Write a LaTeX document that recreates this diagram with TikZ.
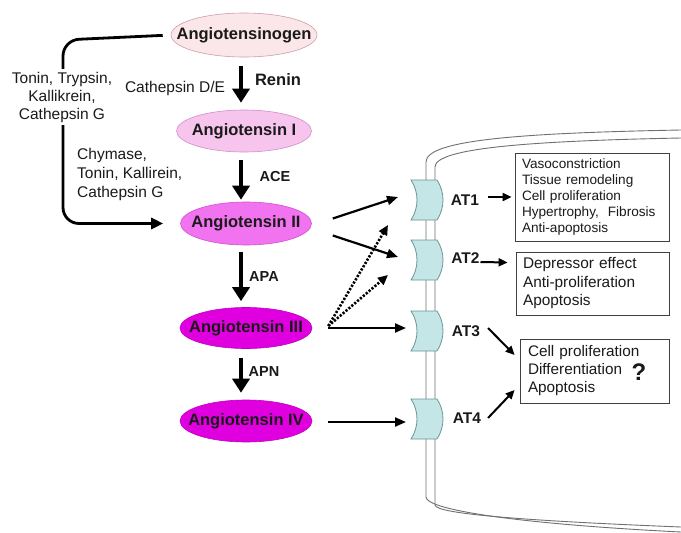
\documentclass[tikz,border=0pt]{standalone}
\usepackage{fontspec}
\setmainfont{Liberation Sans}
\usetikzlibrary{arrows.meta,shapes.geometric,calc}
\definecolor{agfill}{HTML}{FBE6EA}
\definecolor{agdraw}{HTML}{C9A0AA}
\definecolor{aifill}{HTML}{F6C4EC}
\definecolor{aidraw}{HTML}{D090C8}
\definecolor{aiifill}{HTML}{F273F0}
\definecolor{aiidraw}{HTML}{D050D0}
\definecolor{aiiifill}{HTML}{E000DF}
\definecolor{aiiidraw}{HTML}{C000C0}
\definecolor{txt}{HTML}{1A1A1A}
\definecolor{memb}{HTML}{707070}
\definecolor{rcfill}{HTML}{C5E6E6}
\definecolor{rcdraw}{HTML}{6A9494}
\definecolor{boxdraw}{HTML}{404040}
\tikzset{
  pep/.style={ellipse, line width=0.6pt, inner sep=0pt},
  peptxt/.style={font=\fontsize{16.5}{19}\selectfont\bfseries, text=txt, inner sep=0pt},
  reg/.style={font=\fontsize{15.5}{18}\selectfont, text=txt, inner sep=0pt},
  enz/.style={font=\fontsize{14.5}{17}\selectfont\bfseries, text=txt, inner sep=0pt},
  atlab/.style={font=\fontsize{15.5}{18}\selectfont\bfseries, text=txt, inner sep=0pt},
  bigarr/.style={line width=3.6pt, -{Triangle[length=14pt,width=17pt]}},
  midarr/.style={line width=2.8pt, -{Triangle[length=12pt,width=11pt]}},
  solarr/.style={line width=2.2pt, -{Triangle[length=11pt,width=9pt]}},
  dotarr/.style={line width=2.6pt, dash pattern=on 2.2pt off 1.6pt, -{Triangle[length=10pt,width=9pt]}},
  smarr/.style={line width=2pt, -{Triangle[length=9pt,width=8pt]}},
  membline/.style={draw=memb, line width=0.9pt},
  effbox/.style={draw=boxdraw, line width=0.8pt, rectangle, align=left, text=txt, inner ysep=0pt},
  pics/receptor/.style={code={
    \filldraw[fill=rcfill, draw=rcdraw, line width=0.8pt]
      (-17,-20) -- (9,-20) .. controls (17,-8) and (17,8) .. (9,20)
      -- (-17,20) .. controls (-9,8) and (-9,-8) .. (-17,-20) -- cycle;
  }}
}
\begin{document}
\begin{tikzpicture}[x=1pt,y=-1pt]
\useasboundingbox (0,0) rectangle (681,533);
\fill[white] (0,0) rectangle (681,533);

% membrane
\draw[membline] (681,130) .. controls (520,133) and (426,140) .. (426,162) -- (426,497)
   .. controls (426,510) and (520,524) .. (681,532);
\draw[membline] (681,138) .. controls (530,141) and (435,148) .. (435,167) -- (435,505)
   .. controls (435,514) and (530,521) .. (681,527);

% receptors
\coordinate (r1) at (428,200);
\coordinate (r2) at (428,260);
\coordinate (r3) at (428,331);
\coordinate (r4) at (428,419);
\pic at (r1) {receptor};
\pic at (r2) {receptor};
\pic at (r3) {receptor};
\pic at (r4) {receptor};

% peptides
\node[pep, fill=agfill, draw=agdraw, minimum width=146pt, minimum height=44pt] (ag) at (244,35) {};
\node[peptxt] (agt) at (ag) {Angiotensinogen};
\node[pep, fill=aifill, draw=aidraw, minimum width=135pt, minimum height=42pt] (a1) at (244,131) {};
\node[peptxt] (a1t) at (a1) {Angiotensin I};
\node[pep, fill=aiifill, draw=aiidraw, minimum width=131pt, minimum height=43pt] (a2) at (246,223.5) {};
\node[peptxt] (a2t) at (a2) {Angiotensin II};
\node[pep, fill=aiiifill, draw=aiiidraw, minimum width=132pt, minimum height=41pt] (a3) at (246,328) {};
\node[peptxt] (a3t) at (a3) {Angiotensin III};
\node[pep, fill=aiiifill, draw=aiiidraw, minimum width=132pt, minimum height=42pt] (a4) at (246,421) {};
\node[peptxt] (a4t) at (a4) {Angiotensin IV};

% vertical arrows (column at x = 241)
\draw[bigarr] ($(ag.south)+(-3,9)$) -- ($(a1.north)+(-3,-7)$);
\draw[bigarr] ($(a1.south)+(-3,8)$) -- ($(a2.north)+(-5,-2)$);
\draw[bigarr] ($(a2.south)+(-5,7)$) -- ($(a3.north)+(-5,-6)$);
\draw[bigarr] ($(a3.south)+(-5,9)$) -- ($(a4.north)+(-5,-7)$);

\node[reg] (cde) at (175,88) {Cathepsin D/E};
\node[font=\fontsize{16.5}{19}\selectfont\bfseries, text=txt, inner sep=0pt] (ren) at (278,80) {Renin};
\node[enz] (ace) at (275,177) {ACE};
\node[enz] (apa) at (264,277) {APA};
\node[enz] (apn) at (264,372) {APN};

% left bypass path
\draw[midarr, rounded corners=16pt, shorten <=8pt, shorten >=17pt]
   (ag.west) -- (63,40) -- (63,223.5) -- (a2.west);
\node[reg, fill=white, align=center, inner ysep=3pt, inner xsep=1pt] (ton) at (62,97)
   {Tonin, Trypsin,\\Kallikrein,\\Cathepsin G};
\node[font=\fontsize{15.5}{19}\selectfont, text=txt, inner sep=0pt, align=left, anchor=west] (chy) at (77,174)
   {Chymase,\\Tonin, Kallirein,\\Cathepsin G};

% peptide -> receptor arrows
\draw[solarr] ($(a2.east)+(21,-5)$) -- ($(r1)+(-30,-3)$);
\draw[solarr] ($(a2.east)+(21,12)$) -- ($(r2)+(-30,-3)$);
\draw[dotarr] ($(a3.east)+(16,-2)$) -- ($(r1)+(-40,25)$);
\draw[dotarr] ($(a3.east)+(16,-2)$) -- ($(r2)+(-40,15)$);
\draw[solarr] ($(a3.east)+(16,0)$) -- ($(r3)+(-22,-3)$);
\draw[solarr] ($(a4.east)+(16,1)$) -- ($(r4)+(-22,3)$);

% receptor labels
\node[atlab] (at1) at (465,200) {AT1};
\node[atlab] (at2) at (465.5,258) {AT2};
\node[atlab] (at3) at (466,331) {AT3};
\node[atlab] (at4) at (467,418) {AT4};

% effect boxes
\node[effbox, font=\fontsize{13.6}{16}\selectfont, minimum width=154pt, minimum height=88pt,
      text width=140pt, inner xsep=7pt] (b1) at (592,197)
  {Vasoconstriction\\Tissue remodeling\\Cell proliferation\\Hypertrophy,\ \ Fibrosis\\Anti-apoptosis};
\node[effbox, font=\fontsize{15.4}{18.5}\selectfont, minimum width=153pt, minimum height=63pt,
      text width=139pt, inner xsep=7pt] (b2) at (592.5,283.5)
  {Depressor effect\\Anti-proliferation\\Apoptosis};
\node[effbox, font=\fontsize{15.3}{18}\selectfont, minimum width=149pt, minimum height=64pt,
      text width=133pt, inner xsep=8pt] (b3) at (594.5,371)
  {Cell proliferation\\Differentiation\\Apoptosis};
\node[font=\fontsize{24}{26}\selectfont\bfseries, text=txt, inner sep=0pt] (qm) at (639,372) {?};

% receptor -> effect arrows
\draw[smarr] ($(at1)+(23,-3)$) -- ($(b1.west)+(-3,0)$);
\draw[smarr] ($(at2)+(15,4)$) -- ($(b2.west)+(-8,-21)$);
\draw[smarr] ($(at3)+(22,-3)$) -- ($(b3.west)+(-5,-16)$);
\draw[smarr] ($(at4)+(21,0)$) -- ($(b3.west)+(-5,19)$);
\end{tikzpicture}
\end{document}
